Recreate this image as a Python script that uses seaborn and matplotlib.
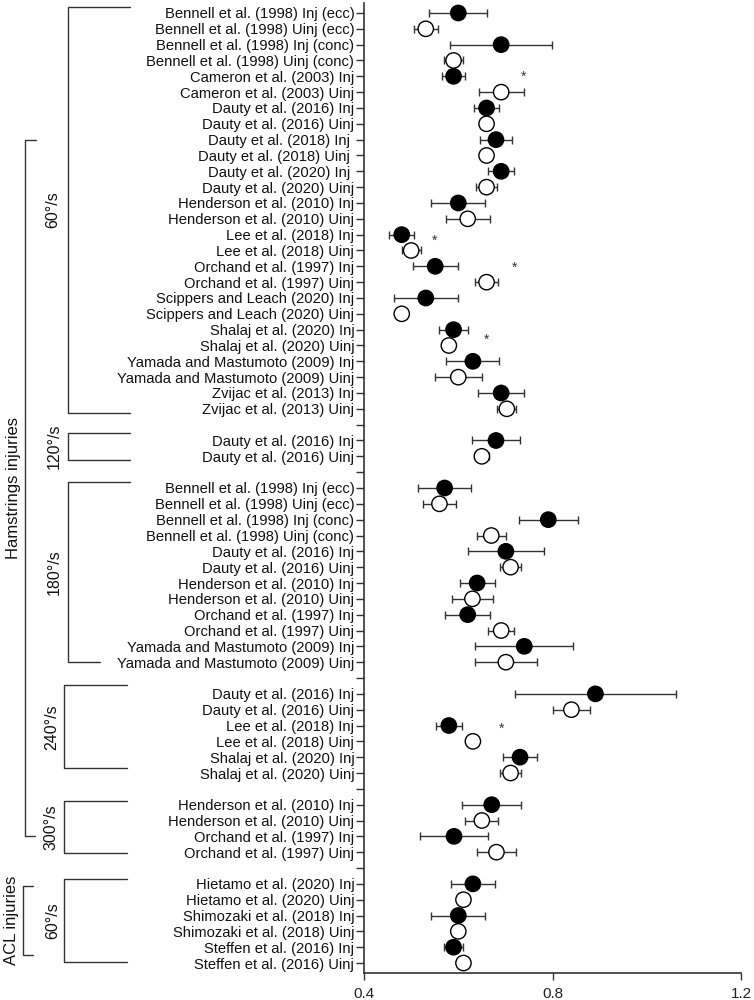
import pandas as pd
import matplotlib.pyplot as plt
import matplotlib.transforms as mtransforms
from matplotlib.lines import Line2D
import seaborn as sns

# --- Data ---
# Hamstrings 60°/s
h60_labels = [
    'Bennell et al. (1998) Inj (ecc)', 'Bennell et al. (1998) Uinj (ecc)',
    'Bennell et al. (1998) Inj (conc)', 'Bennell et al. (1998) Uinj (conc)',
    'Cameron et al. (2003) Inj', 'Cameron et al. (2003) Uinj',
    'Dauty et al. (2016) Inj', 'Dauty et al. (2016) Uinj',
    'Dauty et al. (2018) Inj ', 'Dauty et al. (2018) Uinj ',
    'Dauty et al. (2020) Inj ', 'Dauty et al. (2020) Uinj',
    'Henderson et al. (2010) Inj', 'Henderson et al. (2010) Uinj',
    'Lee et al. (2018) Inj', 'Lee et al. (2018) Uinj',
    'Orchand et al. (1997) Inj', 'Orchand et al. (1997) Uinj',
    'Scippers and Leach (2020) Inj', 'Scippers and Leach (2020) Uinj',
    'Shalaj et al. (2020) Inj', 'Shalaj et al. (2020) Uinj',
    'Yamada and Mastumoto (2009) Inj', 'Yamada and Mastumoto (2009) Uinj',
    'Zvijac et al. (2013) Inj', 'Zvijac et al. (2013) Uinj',
]
h60_mean = [0.600, 0.531, 0.691, 0.590, 0.590, 0.691, 0.660, 0.660, 0.680, 0.660,
            0.691, 0.660, 0.600, 0.620, 0.480, 0.500, 0.551, 0.660, 0.531, 0.480,
            0.590, 0.580, 0.631, 0.600, 0.691, 0.703]
h60_err = [0.062, 0.025, 0.108, 0.020, 0.024, 0.048, 0.026, 0.004, 0.033, 0.008,
           0.028, 0.022, 0.057, 0.047, 0.027, 0.020, 0.048, 0.024, 0.068, 0.010,
           0.030, 0.004, 0.056, 0.050, 0.049, 0.020]

# Hamstrings 120°/s
h120_labels = ['Dauty et al. (2016) Inj', 'Dauty et al. (2016) Uinj']
h120_mean = [0.680, 0.650]
h120_err = [0.051, 0.015]

# Hamstrings 180°/s
h180_labels = [
    'Bennell et al. (1998) Inj (ecc)', 'Bennell et al. (1998) Uinj (ecc)',
    'Bennell et al. (1998) Inj (conc)', 'Bennell et al. (1998) Uinj (conc)',
    'Dauty et al. (2016) Inj', 'Dauty et al. (2016) Uinj',
    'Henderson et al. (2010) Inj', 'Henderson et al. (2010) Uinj',
    'Orchand et al. (1997) Inj', 'Orchand et al. (1997) Uinj',
    'Yamada and Mastumoto (2009) Inj', 'Yamada and Mastumoto (2009) Uinj',
]
h180_mean = [0.571, 0.560, 0.791, 0.670, 0.701, 0.711, 0.640, 0.630, 0.620, 0.691,
             0.740, 0.701]
h180_err = [0.056, 0.035, 0.062, 0.031, 0.080, 0.023, 0.037, 0.044, 0.048, 0.028,
            0.104, 0.066]

# Hamstrings 240°/s
h240_labels = ['Dauty et al. (2016) Inj', 'Dauty et al. (2016) Uinj',
               'Lee et al. (2018) Inj', 'Lee et al. (2018) Uinj',
               'Shalaj et al. (2020) Inj', 'Shalaj et al. (2020) Uinj']
h240_mean = [0.891, 0.840, 0.580, 0.631, 0.731, 0.711]
h240_err = [0.170, 0.040, 0.028, 0.004, 0.037, 0.022]

# Hamstrings 300°/s
h300_labels = ['Henderson et al. (2010) Inj', 'Henderson et al. (2010) Uinj',
               'Orchand et al. (1997) Inj', 'Orchand et al. (1997) Uinj']
h300_mean = [0.671, 0.650, 0.591, 0.681]
h300_err = [0.063, 0.035, 0.073, 0.042]

# ACL 60°/s
acl60_labels = ['Hietamo et al. (2020) Inj', 'Hietamo et al. (2020) Uinj',
                'Shimozaki et al. (2018) Inj', 'Shimozaki et al. (2018) Uinj',
                'Steffen et al. (2016) Inj', 'Steffen et al. (2016) Uinj']
acl60_mean = [0.631, 0.611, 0.600, 0.600, 0.590, 0.611]
acl60_err = [0.047, 0.004, 0.057, 0.008, 0.021, 0.004]

# significance asterisks (row, x)
ast_rows = [4.05, 14.4, 16.1, 20.65, 45.2]
ast_x = [0.738, 0.549, 0.719, 0.659, 0.691]

groups = [
    (h60_labels, h60_mean, h60_err),
    (h120_labels, h120_mean, h120_err),
    (h180_labels, h180_mean, h180_err),
    (h240_labels, h240_mean, h240_err),
    (h300_labels, h300_mean, h300_err),
    (acl60_labels, acl60_mean, acl60_err),
]

# build one table, one blank row between groups
rows = []
tick_labels = []
pos = 0
for gi, (labels, means, errs) in enumerate(groups):
    if gi > 0:
        tick_labels.append('')
        pos += 1
    for lab, m, e in zip(labels, means, errs):
        status = 'Uinj' if 'Uinj' in lab else 'Inj'
        rows.append({'label': lab, 'pos': pos, 'value': m, 'err': e, 'status': status})
        tick_labels.append(lab)
        pos += 1
df = pd.DataFrame(rows)
n_rows = pos

# --- Plot ---
sns.set_style('ticks')
plt.rcParams['font.family'] = ['Liberation Sans', 'DejaVu Sans']
plt.rcParams['axes.edgecolor'] = '#333333'
plt.rcParams['xtick.color'] = '#333333'
plt.rcParams['ytick.color'] = '#333333'

fig = plt.figure(figsize=(7.54, 10), dpi=100)
ax = fig.add_axes([0.4828, 0.027, 0.5, 0.97])

ax.errorbar(df['value'], df['pos'], xerr=df['err'], fmt='none',
            ecolor='#333333', elinewidth=1.0, capsize=3.2, capthick=1.0, zorder=2)
sns.scatterplot(data=df, x='value', y='pos', hue='status',
                palette={'Inj': 'black', 'Uinj': 'white'},
                edgecolor='black', linewidth=1.0, s=122, legend=False,
                zorder=3, ax=ax)

for yy, xx in zip(ast_rows, ast_x):
    ax.text(xx, yy, '*', ha='center', va='center', fontsize=10, color='#333333')

ax.set_xlim(0.4, 1.2)
ax.set_ylim(n_rows - 1 + 0.63, -0.63)
ax.set_xticks([0.4, 0.8, 1.2])
ax.set_xticklabels(['0.4', '0.8', '1.2'], fontsize=11, color='#222222')
ax.set_yticks(range(n_rows))
ax.set_yticklabels(tick_labels, fontsize=10.6, color='#111111')
ax.tick_params(axis='y', length=6, width=1, pad=1)
ax.tick_params(axis='x', length=5, width=1, pad=5)
ax.set_xlabel('')
ax.set_ylabel('')
sns.despine(ax=ax)
for sp in ['left', 'bottom']:
    ax.spines[sp].set_linewidth(1.2)

# --- group brackets on the left (x in figure fraction, y in rows) ---
trans = mtransforms.blended_transform_factory(fig.transFigure, ax.transData)
bk = '#333333'


def bracket(x_v, x_top, x_bot, y0, y1, label, lx, fs=11.5):
    fig.add_artist(Line2D([x_top, x_v, x_v, x_bot], [y0, y0, y1, y1],
                          transform=trans, color=bk, lw=1.0))
    fig.text(lx, (y0 + y1) / 2, label, transform=trans, rotation=90,
             ha='center', va='center', fontsize=fs, color='#111111')


bracket(0.0902, 0.1724, 0.1724, -0.38, 25.25, '60°/s', 0.0705)
bracket(0.0902, 0.1724, 0.1724, 26.5, 28.26, '120°/s', 0.0720)
bracket(0.0902, 0.1724, 0.1320, 29.59, 40.99, '180°/s', 0.0720)
bracket(0.0849, 0.1684, 0.1684, 42.47, 47.68, '240°/s', 0.0690)
bracket(0.0849, 0.1684, 0.1684, 49.79, 53.05, '300°/s', 0.0670)
bracket(0.0849, 0.1684, 0.1684, 54.67, 59.93, '60°/s', 0.0700)
bracket(0.0332, 0.0477, 0.0464, 8.02, 52.0, 'Hamstrings injuries', 0.0180, fs=12)
bracket(0.0305, 0.0438, 0.0438, 55.16, 59.47, 'ACL injuries', 0.0146, fs=12)

plt.savefig('out.png', dpi=100)
